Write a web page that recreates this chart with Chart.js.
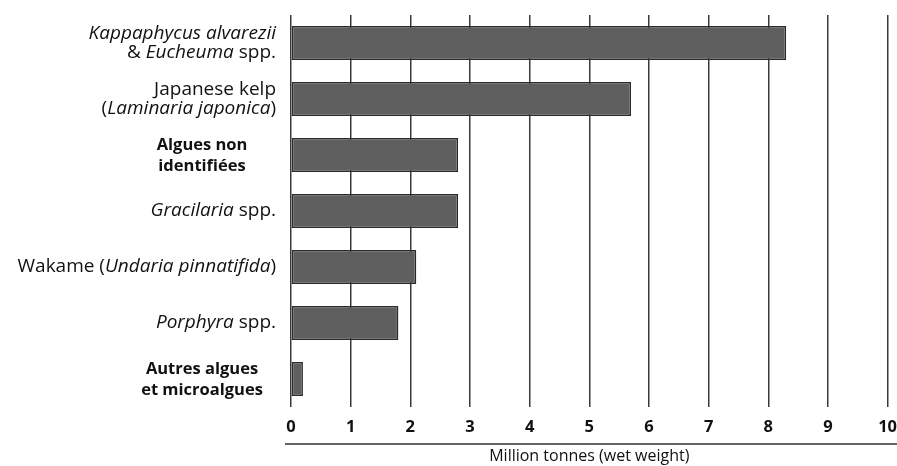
<!DOCTYPE html>
<html lang="fr">
<head>
    <meta charset="UTF-8">
    <title>Seaweed production by species</title>
    <script src="https://cdn.jsdelivr.net/npm/chart.js"></script>
    <style>
        html, body { margin: 0; padding: 0; background: #fff; }
        #wrap { width: 897px; height: 466px; }
    </style>
</head>
<body>
    <div id="wrap"><canvas id="algaeChart" width="897" height="466"></canvas></div>

    <script>
        // label lines for each bar, top to bottom
        const categories = [
            ['Kappaphycus alvarezii', '& Eucheuma spp.'],
            ['Japanese kelp', '(Laminaria japonica)'],
            ['Algues non', 'identifiées'],
            ['Gracilaria spp.'],
            ['Wakame (Undaria pinnatifida)'],
            ['Porphyra spp.'],
            ['Autres algues', 'et microalgues']
        ];
        const values = [8.3, 5.7, 2.8, 2.8, 2.1, 1.8, 0.2];
        const xTicks = [0, 1, 2, 3, 4, 5, 6, 7, 8, 9, 10];
        const axisTitle = 'Million tonnes (wet weight)';

        // which words are set in italics, which labels are bold
        const italicTerms = ['Kappaphycus alvarezii', 'Eucheuma', 'Laminaria japonica', 'Gracilaria', 'Undaria pinnatifida', 'Porphyra'];
        const boldLabels = [2, 6];

        const labelFont = '"Open Sans", sans-serif';

        function splitItalic(line) {
            const parts = [];
            let rest = line;
            while (rest.length) {
                let best = -1, term = null;
                italicTerms.forEach(t => {
                    const i = rest.indexOf(t);
                    if (i >= 0 && (best < 0 || i < best)) { best = i; term = t; }
                });
                if (best < 0) { parts.push({ text: rest, italic: false }); break; }
                if (best > 0) parts.push({ text: rest.slice(0, best), italic: false });
                parts.push({ text: term, italic: true });
                rest = rest.slice(best + term.length);
            }
            return parts;
        }

        // draws the category labels with mixed italic / bold text
        const categoryLabels = {
            id: 'categoryLabels',
            afterDraw(chart) {
                const ctx = chart.ctx;
                const yScale = chart.scales.y;
                const right = chart.chartArea.left - 15;
                const center = chart.chartArea.left - 89;
                ctx.save();
                ctx.fillStyle = '#111';
                ctx.textBaseline = 'middle';
                categories.forEach((lines, i) => {
                    const bold = boldLabels.includes(i);
                    const lineH = bold ? 21 : 19;
                    const cy = yScale.getPixelForValue(i) + (bold ? 1 : 0);
                    const top = cy - (lines.length - 1) * lineH / 2;
                    lines.forEach((line, j) => {
                        const ly = top + j * lineH;
                        if (bold) {
                            ctx.font = 'bold 16.5px ' + labelFont;
                            ctx.textAlign = 'center';
                            ctx.fillText(line, center, ly);
                            return;
                        }
                        const parts = splitItalic(line);
                        let total = 0;
                        parts.forEach(p => {
                            ctx.font = (p.italic ? 'italic ' : '') + '19px ' + labelFont;
                            p.w = ctx.measureText(p.text).width;
                            total += p.w;
                        });
                        let x = right - total;
                        ctx.textAlign = 'left';
                        parts.forEach(p => {
                            ctx.font = (p.italic ? 'italic ' : '') + '19px ' + labelFont;
                            ctx.fillText(p.text, x, ly);
                            x += p.w;
                        });
                    });
                });

                // rule between tick labels and axis title
                const ruleY = chart.chartArea.bottom + 37;
                ctx.strokeStyle = '#333';
                ctx.lineWidth = 1.5;
                ctx.beginPath();
                ctx.moveTo(chart.chartArea.left - 6, ruleY);
                ctx.lineTo(chart.width, ruleY);
                ctx.stroke();
                ctx.restore();
            }
        };

        const ctx = document.getElementById('algaeChart').getContext('2d');
        new Chart(ctx, {
            type: 'bar',
            data: {
                labels: categories.map(l => l.join(' ')),
                datasets: [{
                    data: values,
                    backgroundColor: '#5f5f5f',
                    borderColor: '#2a2a2a',
                    borderWidth: 1.5,
                    borderSkipped: false,
                    barPercentage: 0.61,
                    categoryPercentage: 1
                }]
            },
            options: {
                indexAxis: 'y',
                responsive: false,
                animation: false,
                layout: { padding: { left: 291, right: 0, top: 15, bottom: 0 } },
                plugins: {
                    legend: { display: false },
                    tooltip: { enabled: false }
                },
                scales: {
                    x: {
                        min: 0,
                        max: 10,
                        afterBuildTicks: axis => { axis.ticks = xTicks.map(v => ({ value: v })); },
                        grid: {
                            color: '#3a3a3a',
                            lineWidth: 1.5,
                            drawTicks: true,
                            tickLength: 10,
                            tickColor: 'rgba(0,0,0,0)'
                        },
                        border: { display: false },
                        ticks: {
                            color: '#111',
                            padding: 0,
                            font: { family: labelFont, size: 16.5, weight: 'bold' }
                        },
                        title: {
                            display: true,
                            text: axisTitle,
                            color: '#111',
                            padding: { top: 10, bottom: 0 },
                            font: { family: labelFont, size: 16 }
                        }
                    },
                    y: {
                        display: false
                    }
                }
            },
            plugins: [categoryLabels]
        });
    </script>
</body>
</html>
